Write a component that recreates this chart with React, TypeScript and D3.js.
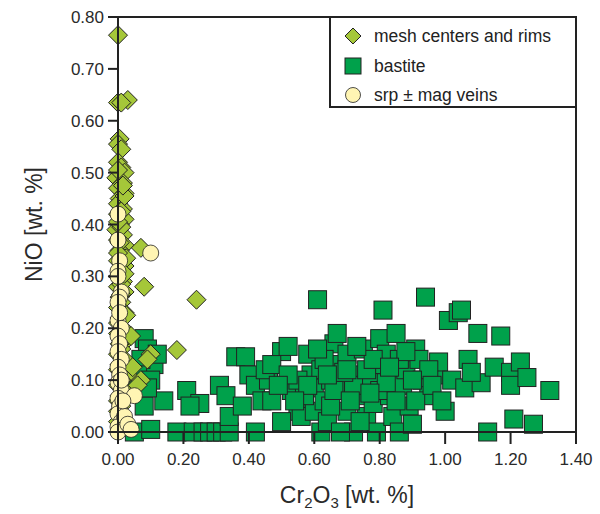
import * as d3 from "d3";

const xTicks = [0, 0.2, 0.4, 0.6, 0.8, 1.0, 1.2, 1.4];
const yTicks = [0, 0.1, 0.2, 0.3, 0.4, 0.5, 0.6, 0.7, 0.8];

const mesh: [number, number][] = [
  [0.0, 0.765], [0.0, 0.635], [0.03, 0.64], [0.01, 0.635], [0.005, 0.565], [0.0, 0.555], [0.01, 0.545],
  [0.0, 0.52], [0.01, 0.51], [0.02, 0.5], [-0.005, 0.49], [0.015, 0.48], [0.0, 0.47], [0.02, 0.46],
  [0.005, 0.45], [0.0, 0.44], [0.015, 0.43], [0.0, 0.42], [0.02, 0.41], [0.005, 0.4], [-0.005, 0.39],
  [0.015, 0.38], [0.0, 0.37], [0.02, 0.36], [0.005, 0.35], [0.01, 0.34], [0.0, 0.33], [0.02, 0.32],
  [0.005, 0.31], [0.0, 0.3], [0.015, 0.29], [0.0, 0.28], [0.02, 0.27], [0.005, 0.26], [0.01, 0.25],
  [0.0, 0.24], [0.02, 0.23], [0.005, 0.22], [0.0, 0.21], [0.015, 0.2], [0.0, 0.19], [0.03, 0.18],
  [0.005, 0.17], [0.01, 0.16], [0.0, 0.15], [0.02, 0.14], [0.005, 0.13], [0.0, 0.12], [0.03, 0.11],
  [0.01, 0.1], [0.0, 0.09], [0.02, 0.08], [0.005, 0.07], [0.0, 0.06], [0.01, 0.05], [0.0, 0.04],
  [0.01, 0.03], [0.0, 0.02], [0.02, 0.455], [0.01, 0.395], [0.025, 0.335], [0.01, 0.285],
  [0.025, 0.225], [0.0, 0.505], [0.01, 0.425], [0.015, 0.475], [0.005, 0.365], [0.02, 0.305],
  [0.0, 0.345], [0.01, 0.265], [0.02, 0.19], [0.0, 0.405],
  [0.07, 0.355], [0.08, 0.28], [0.24, 0.255], [0.18, 0.158], [0.1, 0.15], [0.09, 0.14],
  [0.07, 0.1], [0.06, 0.09], [0.045, 0.125], [0.04, 0.185],
];

const bastite: [number, number][] = [
  [0.05, 0.0], [0.1, 0.005], [0.08, 0.18], [0.09, 0.16], [0.11, 0.13], [0.07, 0.14], [0.06, 0.11],
  [0.1, 0.1], [0.12, 0.15], [0.08, 0.05], [0.14, 0.06], [0.05, 0.09], [0.09, 0.085],
  [0.18, 0.0], [0.21, 0.08], [0.23, 0.0], [0.25, 0.055], [0.26, 0.0], [0.28, 0.0], [0.3, 0.0],
  [0.32, 0.0], [0.34, 0.0], [0.22, 0.05], [0.31, 0.09], [0.33, 0.07], [0.34, 0.03], [0.36, 0.145],
  [0.39, 0.145], [0.4, 0.11], [0.38, 0.05], [0.42, 0.09], [0.44, 0.06], [0.46, 0.1], [0.47, 0.06],
  [0.5, 0.155], [0.52, 0.165], [0.53, 0.08], [0.55, 0.04], [0.56, 0.03], [0.58, 0.15], [0.59, 0.11],
  [0.6, 0.085], [0.6, 0.04], [0.61, 0.255], [0.62, 0.0], [0.62, 0.12], [0.63, 0.06], [0.64, 0.02],
  [0.65, 0.1], [0.66, 0.17], [0.67, 0.19], [0.68, 0.13], [0.69, 0.085], [0.7, 0.04], [0.7, 0.15],
  [0.72, 0.0], [0.73, 0.11], [0.74, 0.07], [0.75, 0.16], [0.76, 0.03], [0.77, 0.1], [0.78, 0.055],
  [0.79, 0.0], [0.8, 0.18], [0.8, 0.13], [0.81, 0.235], [0.82, 0.15], [0.83, 0.07], [0.84, 0.11],
  [0.84, 0.03], [0.85, 0.19], [0.86, 0.0], [0.87, 0.09], [0.88, 0.12], [0.89, 0.05], [0.9, 0.015],
  [0.91, 0.16], [0.92, 0.14], [0.93, 0.1], [0.94, 0.26], [0.95, 0.07], [0.97, 0.11], [0.98, 0.135],
  [1.0, 0.04], [1.01, 0.215], [1.02, 0.1], [1.04, 0.23], [1.05, 0.235], [1.06, 0.085], [1.07, 0.14],
  [1.1, 0.19], [1.11, 0.095], [1.13, 0.0], [1.15, 0.125], [1.17, 0.185], [1.2, 0.115], [1.2, 0.09],
  [1.21, 0.025], [1.23, 0.135], [1.25, 0.105], [1.27, 0.015], [1.32, 0.08],
  [0.45, 0.12], [0.57, 0.07], [0.65, 0.05], [0.72, 0.09], [0.76, 0.12], [0.86, 0.14], [0.91, 0.06],
  [0.55, 0.1], [0.68, 0.0], [0.74, 0.02], [0.8, 0.08], [0.95, 0.12], [0.63, 0.14], [0.5, 0.02],
  [0.42, 0.0], [0.47, 0.13], [1.08, 0.115],
  [0.52, 0.11], [0.58, 0.09], [0.61, 0.16], [0.66, 0.08], [0.69, 0.115], [0.71, 0.06], [0.78, 0.14],
  [0.82, 0.095], [0.85, 0.06], [0.88, 0.155], [0.9, 0.1], [0.96, 0.09], [0.99, 0.06], [0.73, 0.165],
  [0.64, 0.11], [0.54, 0.06], [0.49, 0.09], [0.7, 0.12], [0.83, 0.125], [0.77, 0.075],
];

const veins: [number, number][] = [
  [0.0, 0.42], [0.1, 0.345], [0.0, 0.37], [0.005, 0.33], [0.0, 0.31], [0.01, 0.27], [0.005, 0.26],
  [0.0, 0.25], [0.0, 0.215], [0.01, 0.2], [0.0, 0.185], [0.005, 0.17], [0.0, 0.155], [0.01, 0.14],
  [0.0, 0.125], [0.005, 0.11], [0.0, 0.095], [0.01, 0.08], [0.0, 0.065], [0.005, 0.05], [0.0, 0.035],
  [0.01, 0.02], [0.0, 0.01], [0.0, 0.0], [0.02, 0.03], [0.03, 0.015], [0.05, 0.07], [0.04, 0.005],
  [0.015, 0.06], [0.0, 0.3], [0.005, 0.23], [0.01, 0.1],
];

const W = 600, H = 514;
const m = { left: 118, right: 24, top: 17, bottom: 82 };
const x = d3.scaleLinear().domain([0, 1.4]).range([m.left, W - m.right]);
const y = d3.scaleLinear().domain([0, 0.8]).range([H - m.bottom, m.top]);

const diamond = (cx: number, cy: number, r = 9.5) =>
  `M${cx},${cy - r}L${cx + r},${cy}L${cx},${cy + r}L${cx - r},${cy}Z`;

const font = "'Liberation Sans', Arial, sans-serif";
const stroke = "#222";
const txt = "#2a2a2a";

export default function App() {
  const x0 = x(0), x1 = x(1.4), y0 = y(0), y1 = y(0.8);
  return (
    <svg width={W} height={H} style={{ position: "absolute", left: 0, top: 0 }} fontFamily={font}>
      <rect width={W} height={H} fill="white" />
      {bastite.map(([a, b], i) => (
        <rect key={"b" + i} x={x(a) - 9} y={y(b) - 9} width={18} height={18} fill="#00a14b" stroke={stroke} strokeWidth={1} />
      ))}
      {mesh.map(([a, b], i) => (
        <path key={"m" + i} d={diamond(x(a), y(b))} fill="#a5c739" stroke={stroke} strokeWidth={1} />
      ))}
      {veins.map(([a, b], i) => (
        <circle key={"v" + i} cx={x(a)} cy={y(b)} r={8} fill="#fff5b3" stroke={stroke} strokeWidth={0.8} />
      ))}
      <path d={`M${x0},${y1}H${x1}V${y0}`} fill="none" stroke={stroke} strokeWidth={2} />
      <line x1={x0} x2={x1} y1={y0} y2={y0} stroke={stroke} strokeWidth={2} />
      <line x1={x0} x2={x0} y1={y0} y2={y1} stroke={stroke} strokeWidth={2} />
      {xTicks.map((t) => (
        <g key={"xt" + t}>
          <line x1={x(t)} x2={x(t)} y1={y0} y2={y0 + 12} stroke={stroke} strokeWidth={2} />
          <text x={x(t)} y={y0 + 33} textAnchor="middle" fontSize={17} fill={txt}>{t.toFixed(2)}</text>
        </g>
      ))}
      {yTicks.map((t) => (
        <g key={"yt" + t}>
          <line x1={x0 - 10} x2={x0} y1={y(t)} y2={y(t)} stroke={stroke} strokeWidth={2} />
          <text x={x0 - 14} y={y(t) + 6} textAnchor="end" fontSize={17} fill={txt}>{t.toFixed(2)}</text>
        </g>
      ))}
      <text x={(x0 + x1) / 2} y={503} textAnchor="middle" fontSize={23} fill={txt}>
        Cr<tspan fontSize={15} dy={5}>2</tspan><tspan dy={-5}>O</tspan><tspan fontSize={15} dy={5}>3</tspan><tspan dy={-5}> [wt. %]</tspan>
      </text>
      <text transform={`translate(42,${(y0 + y1) / 2}) rotate(-90)`} textAnchor="middle" fontSize={23} fill={txt}>NiO [wt. %]</text>
      <rect x={330} y={y1} width={x1 - 330} height={90} fill="white" stroke={stroke} strokeWidth={2} />
      <path d={diamond(353, 36, 8)} fill="#a5c739" stroke={stroke} />
      <text x={374} y={42} fontSize={17.5} fill="#222">mesh centers and rims</text>
      <rect x={345} y={58} width={16} height={16} fill="#00a14b" stroke={stroke} />
      <text x={374} y={72} fontSize={17.5} fill="#222">bastite</text>
      <circle cx={353} cy={95} r={7.5} fill="#fff5b3" stroke={stroke} strokeWidth={0.8} />
      <text x={374} y={101} fontSize={17.5} fill="#222">srp ± mag veins</text>
    </svg>
  );
}
